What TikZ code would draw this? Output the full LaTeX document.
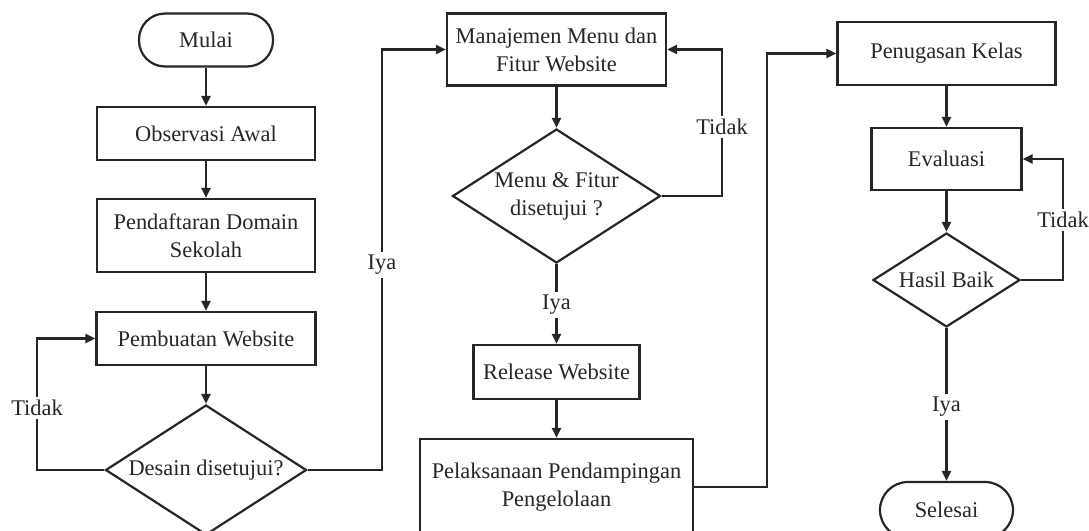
\documentclass[tikz,border=0pt]{standalone}
\usepackage{fontspec}
\setmainfont{Liberation Serif}
\usetikzlibrary{shapes.geometric,arrows.meta}
\definecolor{ink}{HTML}{262626}
\tikzset{
  box/.style={draw=ink, line width=1.1pt, text=ink, inner sep=2pt, align=center, font=\fontsize{11.2}{14}\selectfont},
  term/.style={box, rounded corners=13pt},
  dec/.style={draw=ink, line width=1.1pt, text=ink, diamond, shape aspect=1.55, inner sep=0pt, align=center, font=\fontsize{11.2}{14}\selectfont},
  conn/.style={draw=ink, line width=1.1pt, -{Triangle[length=5pt,width=4.5pt]}},
  lbl/.style={fill=white, text=ink, inner sep=1.5pt, font=\fontsize{11.2}{14}\selectfont}
}
\begin{document}
\begin{tikzpicture}[x=0.5pt,y=-0.5pt]
\useasboundingbox (0,0) rectangle (1089,531);
% column 1
\node[term, minimum width=67pt, minimum height=26.5pt] (mulai) at (206,40) {Mulai};
\node[box, minimum width=109pt, minimum height=26.5pt] (obs) at (206,133.5) {Observasi Awal};
\node[box, minimum width=109pt, minimum height=36.5pt] (daftar) at (206,235.5) {Pendaftaran Domain\\Sekolah};
\node[box, minimum width=109.5pt, minimum height=26.5pt] (buat) at (206,338.5) {Pembuatan Website};
\node[dec, minimum width=100.5pt, minimum height=65pt] (d1) at (206,470) {Desain disetujui?};
% column 2
\node[box, minimum width=109.5pt, minimum height=36pt] (man) at (556.5,49.5) {Manajemen Menu dan\\Fitur Website};
\node[dec, minimum width=104pt, minimum height=67pt] (d2) at (556.5,196) {Menu \& Fitur\\disetujui ?};
\node[box, minimum width=83pt, minimum height=27pt] (rel) at (556.5,372) {Release Website};
\node[box, minimum width=136.5pt, minimum height=48pt] (pel) at (556.5,487) {Pelaksanaan Pendampingan\\Pengelolaan};
% column 3
\node[box, minimum width=109pt, minimum height=31.5pt] (pen) at (946.5,53.5) {Penugasan Kelas};
\node[box, minimum width=75pt, minimum height=31pt] (eva) at (946.5,159) {Evaluasi};
\node[dec, minimum width=73.5pt, minimum height=47pt] (d3) at (946.5,280) {Hasil Baik};
\node[term, minimum width=66.5pt, minimum height=28pt, rounded corners=14pt] (sel) at (946.5,510) {Selesai};
% helper coordinates
\coordinate (t1) at (37,470);
\coordinate (i1) at (382,470);
\coordinate (t2) at (722,196);
\coordinate (c3) at (767,487);
\coordinate (t3) at (1063,280);
% connectors column 1
\draw[conn] (mulai) -- (obs);
\draw[conn] (obs) -- (daftar);
\draw[conn] (daftar) -- (buat);
\draw[conn] (buat) -- (d1);
\draw[conn] (d1.west) -- (t1) |- (buat.west);
\node[lbl] (lt1) at (37,408) {Tidak};
\draw[conn] (d1.east) -- (i1) |- (man.west);
\node[lbl] (li1) at (382,265) {Iya};
% connectors column 2
\draw[conn] (man) -- (d2);
\draw[conn] (d2.east) -- (t2) |- (man.east);
\node[lbl] (lt2) at (722,127) {Tidak};
\draw[conn] (d2.south) -- (rel.north);
\node[lbl] (li2) at (556.5,305) {Iya};
\draw[conn] (rel) -- (pel);
\draw[conn] (pel.east) -- (c3) |- (pen.west);
% connectors column 3
\draw[conn] (pen) -- (eva);
\draw[conn] (eva) -- (d3);
\draw[conn] (d3.east) -- (t3) |- (eva.east);
\node[lbl] (lt3) at (1063,220) {Tidak};
\draw[conn] (d3.south) -- (sel.north);
\node[lbl] (li3) at (946.5,407) {Iya};
\end{tikzpicture}
\end{document}
